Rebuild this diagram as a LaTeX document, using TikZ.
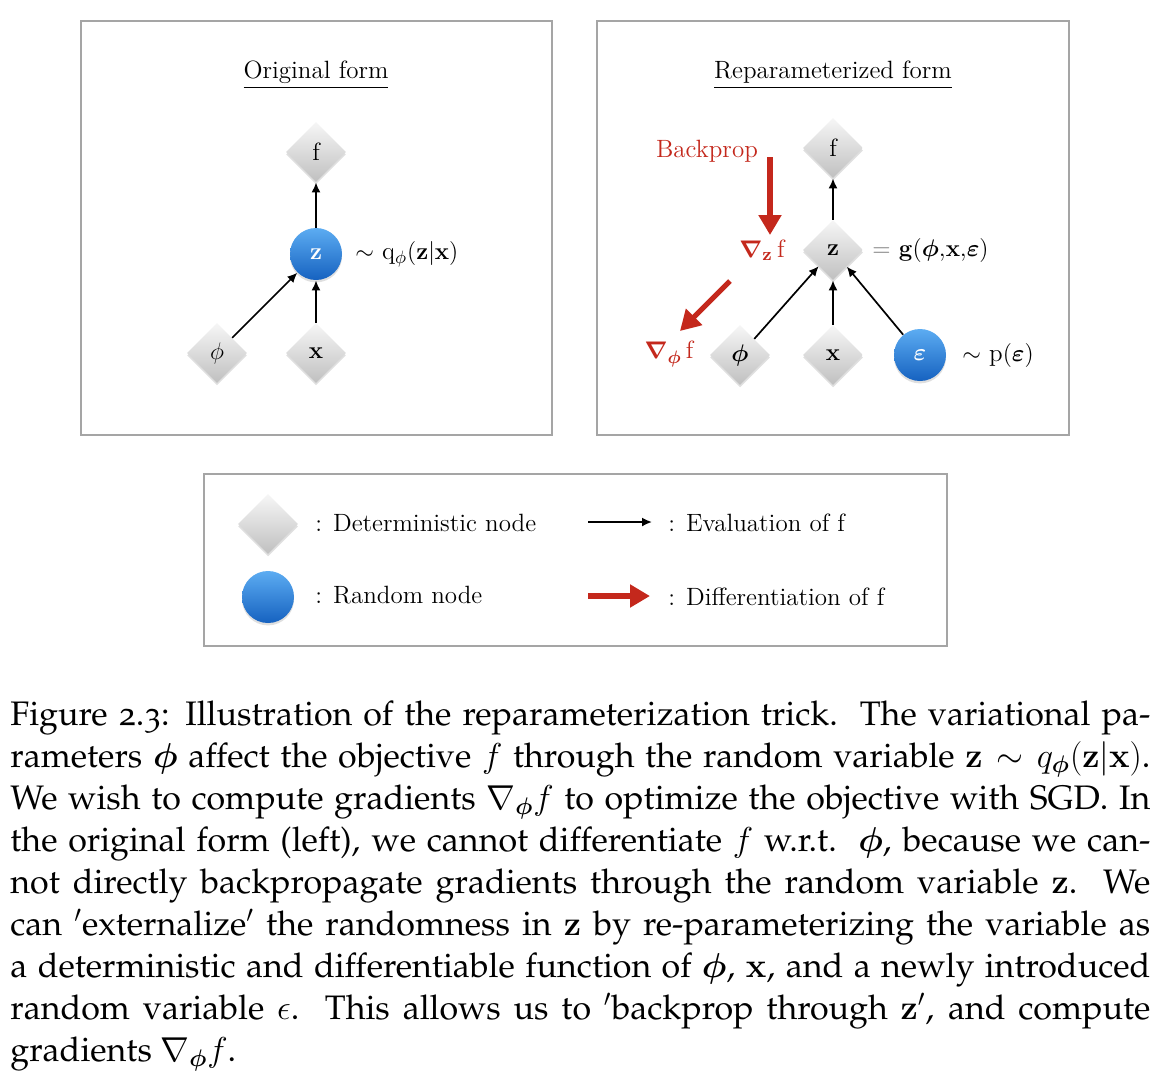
\documentclass[tikz,border=0pt]{standalone}
\usepackage{amsmath}
\usepackage{amssymb}
\usepackage{bm}
\usepackage{tikz}
\usetikzlibrary{shapes.geometric}
\usetikzlibrary{shadows}
\usetikzlibrary{arrows.meta}

\definecolor{bpred}{RGB}{196,40,28}
\definecolor{rndtop}{RGB}{92,172,242}
\definecolor{rndbot}{RGB}{22,98,192}
\definecolor{dettop}{RGB}{246,246,246}
\definecolor{detbot}{RGB}{192,192,192}
\definecolor{framegray}{RGB}{165,165,165}

\newcommand{\capfont}{\fontencoding{T1}\fontfamily{ppl}\fontsize{17}{21}\selectfont}

\tikzset{
	detnode/.style={diamond, aspect=1, minimum size=30pt, inner sep=0pt,
		top color=dettop, bottom color=detbot,
		drop shadow={shadow xshift=0pt, shadow yshift=-1.2pt, opacity=0.25}},
	rndnode/.style={circle, minimum size=26pt, inner sep=0pt, text=white,
		top color=rndtop, bottom color=rndbot,
		drop shadow={shadow xshift=0pt, shadow yshift=-1.2pt, opacity=0.25}},
	panel/.style={draw=framegray, line width=0.6pt},
	evalarrow/.style={-{Latex[length=5pt,width=4.5pt]}, line width=0.85pt},
	diffarrow/.style={-{Triangle[length=10pt,width=11pt]}, line width=2.6pt, draw=bpred, fill=bpred},
	lbl/.style={inner sep=0pt, anchor=west},
}

\begin{document}
\begin{tikzpicture}[x=0.5pt, y=-0.5pt, font=\fontsize{12.5}{15}\selectfont]
		\fill[white] (0,0) rectangle (1168,1078);
		\useasboundingbox (0,0) rectangle (1168,1078);
		
		% draw left panel: original form
		\draw[panel] (81,21) rectangle (552,435);
		\node (lefttitle) at (316,75) {\underline{Original form}};
		\node[detnode] (lf) at (316,152) {f};
		\node[rndnode] (lz) at (316,254) {$\mathbf{z}$};
		\node[detnode] (lphi) at (217,353) {$\phi$};
		\node[detnode] (lx) at (316,353) {$\mathbf{x}$};
		\node[lbl] (lzlabel) at (355,254) {$\sim$ q$_{\phi}(\mathbf{z}|\mathbf{x})$};
		\draw[evalarrow] (lz) -- (lf);
		\draw[evalarrow] (lx) -- (lz);
		\draw[evalarrow] (lphi) -- (lz);
		
		% draw right panel: reparameterized form
		\draw[panel] (597,21) rectangle (1069,435);
		\node (righttitle) at (833,75) {\underline{Reparameterized form}};
		\node[detnode] (rf) at (833,148) {f};
		\node[detnode] (rz) at (833,250) {$\mathbf{z}$};
		\node[detnode] (rphi) at (740,355) {$\bm{\phi}$};
		\node[detnode] (rx) at (833,355) {$\mathbf{x}$};
		\node[rndnode] (reps) at (920,355) {$\bm{\varepsilon}$};
		\node[lbl] (rzlabel) at (872,250) {$\color{black!55}=$ $\mathbf{g}(\bm{\phi}$,$\mathbf{x}$,$\bm{\varepsilon})$};
		\node[lbl] (repslabel) at (962,355) {$\sim$ p$(\bm{\varepsilon})$};
		\draw[evalarrow] (rz) -- (rf);
		\draw[evalarrow] (rx) -- (rz);
		\draw[evalarrow] (rphi) -- (rz);
		\draw[evalarrow] (reps) -- (rz);
		
		% draw backprop arrows
		\node[text=bpred] (backprop) at (707,151) {Backprop};
		\node[text=bpred] (gradz) at (762,250) {$\bm{\nabla}_{\mathbf{z}}$\,f};
		\node[text=bpred] (gradphi) at (669,354) {$\bm{\nabla}_{\bm{\phi}}$\,f};
		\coordinate (bptop) at (770,157);
		\coordinate (bpbot) at (770,235);
		\coordinate (gzfrom) at (730,281);
		\coordinate (gzto) at (680,331);
		\draw[diffarrow] (bptop) -- (bpbot);
		\draw[diffarrow] (gzfrom) -- (gzto);
		
		% draw legend
		\draw[panel] (204,474) rectangle (947,646);
		\node[detnode] (legdet) at (268,524) {};
		\node[rndnode] (legrnd) at (268,597) {};
		\node[lbl] (legdettext) at (315,523) {: Deterministic node};
		\node[lbl] (legrndtext) at (315,595) {: Random node};
		\node[lbl] (legevaltext) at (668,523) {: Evaluation of f};
		\node[lbl] (legdifftext) at (668,597) {: Differentiation of f};
		\coordinate (evalfrom) at (588,522);
		\coordinate (evalto) at (652,522);
		\coordinate (difffrom) at (588,596);
		\coordinate (diffto) at (650,596);
		\draw[evalarrow] (evalfrom) -- (evalto);
		\draw[diffarrow] (difffrom) -- (diffto);
		
		% draw caption
		\node[anchor=north west, inner sep=0pt, text width=570pt, align=justify, font=\capfont] (caption) at (10,700) {%
			Figure {\fontfamily{pplj}\selectfont 2.3}: Illustration of the reparameterization trick.\ \ The variational pa-\linebreak
			rameters $\bm{\phi}$ affect the objective $f$ through the random variable $\mathbf{z}\sim q_{\bm{\phi}}(\mathbf{z}|\mathbf{x})$.\linebreak
			We wish to compute gradients $\nabla_{\bm{\phi}}f$ to optimize the objective with SGD. In\linebreak
			the original form (left), we cannot differentiate $f$ w.r.t.\ \ $\bm{\phi}$, because we can-\linebreak
			not directly backpropagate gradients through the random variable $\mathbf{z}$.\ \ We\linebreak
			can $'$externalize$'$ the randomness in $\mathbf{z}$ by re-parameterizing the variable as\linebreak
			a deterministic and differentiable function of $\bm{\phi}$, $\mathbf{x}$, and a newly introduced\linebreak
			random variable $\epsilon$.\ \ This allows us to $'$backprop through $\mathbf{z}'$, and compute\linebreak
			gradients $\nabla_{\bm{\phi}}f$.};
		
\end{tikzpicture}
\end{document}
